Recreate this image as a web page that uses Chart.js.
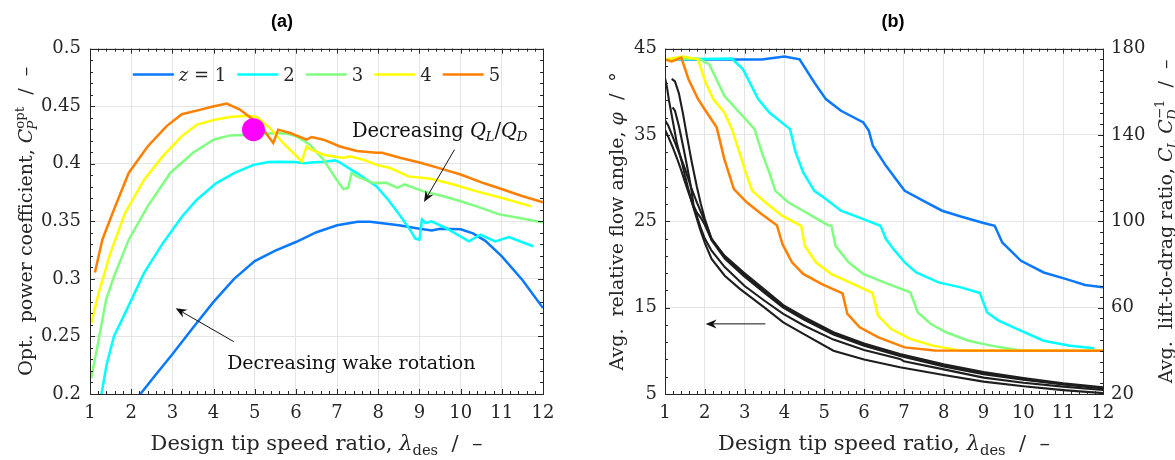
<!DOCTYPE html>
<html><head><meta charset="utf-8">
<script src="https://cdn.jsdelivr.net/npm/chart.js@4.4.0/dist/chart.umd.min.js"></script>
<style>
html,body{margin:0;padding:0;background:#fff;overflow:hidden;width:1175px;height:460px;position:relative;}
canvas{position:absolute;top:0;}
#ca{left:0;} #cb{left:590px;}
</style></head><body>
<canvas id="ca" width="564" height="460"></canvas>
<canvas id="cb" width="606" height="460"></canvas>
<script>
// ---------- (a) data ----------
const lamTicks = [1,2,3,4,5,6,7,8,9,10,11,12];
const cpTicks = [0.2,0.25,0.3,0.35,0.4,0.45,0.5];

const lamA_z1 = [2.18,2.6,3.0,3.5,4.0,4.5,5.0,5.5,6.0,6.5,7.0,7.5,7.8,8.0,8.5,9.0,9.3,9.5,10.0,10.3,10.6,11.0,11.5,12.0];
const cpA_z1  = [0.198,0.217,0.2345,0.2575,0.280,0.300,0.3155,0.3245,0.332,0.3405,0.3465,0.3497,0.3497,0.3487,0.3465,0.3435,0.342,0.3435,0.343,0.3395,0.333,0.3195,0.299,0.2746];

const lamA_z2 = [1.27,1.4,1.58,1.85,2.31,2.77,3.23,3.6,4.06,4.51,4.97,5.34,5.6,5.98,6.2,6.44,6.7,6.95,7.05,7.15,7.48,7.96,8.24,8.55,8.8,8.9,9.0,9.06,9.15,9.29,9.65,10.2,10.48,10.84,11.17,11.76];
const cpA_z2  = [0.198,0.225,0.250,0.270,0.305,0.331,0.354,0.369,0.383,0.392,0.399,0.4015,0.4018,0.4014,0.4005,0.4012,0.4018,0.4029,0.4015,0.3991,0.3919,0.3803,0.3687,0.354,0.341,0.335,0.334,0.3515,0.3485,0.350,0.344,0.3326,0.3384,0.3326,0.3364,0.3283];

const lamA_z3 = [1.03,1.21,1.39,1.58,1.94,2.40,2.95,3.5,4.0,4.4,4.89,5.3,5.53,5.8,6.02,6.34,6.67,6.99,7.15,7.27,7.35,7.48,7.88,8.2,8.46,8.64,9.1,9.56,10.0,10.39,10.94,11.4,12.0];
const cpA_z3  = [0.2137,0.247,0.2818,0.302,0.334,0.363,0.392,0.4095,0.4209,0.4246,0.4252,0.426,0.4267,0.426,0.4237,0.4165,0.4035,0.3861,0.378,0.3789,0.3919,0.389,0.3832,0.3834,0.379,0.382,0.376,0.372,0.3674,0.363,0.356,0.353,0.349];

const lamA_z4 = [1.03,1.21,1.49,1.85,2.31,2.77,3.23,3.6,4.06,4.4,4.8,5.05,5.37,5.69,6.14,6.26,6.38,6.67,7.15,7.31,7.64,7.96,8.29,8.73,9.28,9.83,10.39,11.03,11.72];
const cpA_z4  = [0.2615,0.2876,0.322,0.357,0.386,0.4066,0.424,0.434,0.4385,0.4406,0.4417,0.4406,0.431,0.418,0.402,0.415,0.4122,0.4078,0.405,0.4064,0.4035,0.399,0.3963,0.389,0.387,0.382,0.376,0.370,0.363];

const lamA_z5 = [1.12,1.3,1.58,1.94,2.40,2.86,3.23,3.69,3.96,4.32,4.64,4.97,5.21,5.45,5.57,5.86,6.26,6.38,6.67,7.07,7.48,7.96,8.09,8.55,9.0,9.46,10.0,10.57,11.03,11.49,12.0];
const cpA_z5  = [0.3056,0.334,0.360,0.392,0.415,0.4327,0.443,0.447,0.4495,0.4522,0.447,0.438,0.4296,0.418,0.4296,0.4267,0.4209,0.4232,0.4209,0.415,0.411,0.4095,0.4095,0.405,0.401,0.3964,0.3906,0.383,0.3776,0.372,0.3665];

const optLam = [4.97];
const optCp  = [0.4296];

// ---------- (b) data ----------
const phiTicks = [5,15,25,35,45];
const ldTicks  = [20,60,100,140,180];

const lamB_z1 = [1,3.43,4.0,4.38,4.75,5.04,5.42,5.98,6.12,6.22,6.55,6.83,7.02,7.49,7.96,8.43,9.0,9.28,9.47,9.94,10.51,11.08,11.55,12];
const ldB_z1  = [175,175,176.3,175,164.3,156.6,151.2,145.8,141.9,135,125.7,118.8,114.1,109.5,104.9,102.2,99.2,97.9,90.2,81.7,76.3,73.2,70.5,69.4];

const lamB_z2 = [1,2.68,2.96,3.34,3.62,4.14,4.28,4.47,4.75,5.04,5.42,5.98,6.41,6.55,6.74,7.02,7.31,7.87,8.43,8.91,9.09,9.38,9.85,10.51,11.17,11.78];
const ldB_z2  = [175,175.4,170.4,156.6,150.4,142.7,131.9,122.6,114.1,110.3,104.9,101,97.9,91.8,87.1,81,76.3,71.7,69.4,66.8,57.8,54,50.1,44.7,42.4,41.2];

const lamB_z3 = [1,1.83,2.11,2.49,2.87,3.25,3.43,3.62,3.77,4.1,4.47,5.09,5.18,5.28,5.61,5.98,6.55,7.16,7.35,7.68,8.06,8.62,9.19,9.85,10.04,12];
const ldB_z3  = [175,175.4,172.8,158.1,150.4,142.7,131.9,122.6,114.1,108.7,104.9,98.2,97.9,88.7,81,75.6,71.4,67.1,57.8,52.4,48.6,44.7,42.4,40.4,40,40];

const lamB_z4 = [1,1.45,1.83,2.02,2.21,2.49,2.68,2.87,3.0,3.19,3.57,3.94,4.42,4.51,4.79,5.17,5.64,6.21,6.35,6.68,7.16,7.72,8.43,12];
const ldB_z4  = [175,176.3,175,164.3,156.6,150.4,142.7,131.9,124.2,114.1,108,102.6,97.9,88.7,81,75.6,71.7,66.8,56.3,50.1,45.5,42.4,40.1,40];

const lamB_z5 = [1,1.17,1.41,1.59,1.83,2.02,2.3,2.49,2.73,3.06,3.43,3.81,3.95,4.19,4.47,4.94,5.46,5.58,5.89,6.36,7.02,7.77,12];
const ldB_z5  = [175,174.1,175.8,165.8,156.6,151.2,143.4,128.8,114.9,108.7,103.3,98.2,89.4,81,75.6,70.9,66.6,57.1,50.9,46.2,41.6,40.1,40];

const lamK1 = [1.0,1.05,1.1,1.2,1.3,1.42,1.5,1.6,1.7,1.8,1.88,2.0,2.17,2.5,2.88,3.5,3.97,4.5,5.23,6.0,6.9,8.0,9.0,10.0,11.0,12.0];
const phiK1 = [41.6,40.5,39.0,36.5,34.0,31.9,30.3,28.5,26.8,25.3,24.1,22.5,20.65,18.7,17.17,15.0,13.3,11.9,10.02,9.0,8.1,7.2,6.43,5.9,5.45,5.1];

const lamK2 = [1.17,1.25,1.35,1.45,1.55,1.67,1.8,1.9,2.0,2.1,2.17,2.5,2.97,3.5,3.97,4.5,5.23,6.0,6.9,8.0,9.0,10.0,11.0,12.0];
const phiK2 = [41.5,41.2,39.8,37.5,34.9,31.9,29.0,27.0,25.3,23.9,22.9,21.0,19.1,17.1,15.3,13.9,12.15,10.85,9.64,8.45,7.55,6.85,6.25,5.78];

const lamK3 = [1.0,1.08,1.21,1.38,1.5,1.65,1.8,2.0,2.17,2.5,2.97,3.5,3.97,4.5,5.23,6.0,6.9,8.0,9.0,10.0,11.0,12.0];
const phiK3 = [36.7,36.1,34.6,32.6,31.1,29.0,27.2,25.0,23.0,20.9,18.9,16.9,15.1,13.7,12.0,10.7,9.5,8.3,7.4,6.7,6.15,5.7];

const lamK4 = [1.19,1.25,1.35,1.45,1.55,1.65,1.72,1.8,1.9,2.0,2.17,2.5,2.97,3.5,3.97,4.5,5.23,6.0,6.9,8.0,9.0,10.0,11.0,12.0];
const phiK4 = [38.2,37.8,36.0,33.8,31.5,29.0,26.8,26.0,25.4,24.6,22.8,20.7,18.7,16.7,15.0,13.6,11.9,10.6,9.4,8.2,7.3,6.65,6.1,5.65];

const lamK5 = [1.0,1.1,1.2,1.3,1.4,1.5,1.6,1.7,1.8,1.9,2.0,2.17,2.5,3.0,3.5,3.97,4.5,5.23,6.0,6.9,7.0,8.0,9.0,10.0,11.0,12.0];
const phiK5 = [35.6,34.6,33.5,32.3,31.0,29.6,28.2,26.9,25.6,24.2,23.0,21.6,19.7,17.5,15.8,14.27,12.9,11.3,10.1,9.06,8.8,7.85,6.9,6.3,5.85,5.46];

// ---------- styling ----------
const zColors = ['#0a78ff','#00ffff','#80ff80','#ffff00','#ff8000'];
const zLabels = ['z = 1','2','3','4','5'];
const blackColor = '#1e1e1e';
const FAM = '"DejaVu Serif","Liberation Serif",serif';
const TXT = '#262626';
const GRID = '#e4e4e4';

const pts = (xs, ys) => xs.map((x, i) => ({x: x, y: ys[i]}));

// ---------- rich text helpers ----------
function fontStr(size, it){ return (it ? 'italic ' : '') + size + 'px ' + FAM; }
function segWidth(ctx, s, size){
  ctx.font = fontStr(size, s.it);
  const w = ctx.measureText(s.t).width;
  let e = 0;
  for (const k of ['sub','sup']) if (s[k]) {
    ctx.font = fontStr(size*0.7, s[k].it);
    e = Math.max(e, ctx.measureText(s[k].t).width + (s[k].dx || 0));
  }
  return w + e;
}
function richWidth(ctx, segs, size){ return segs.reduce((a, s) => a + segWidth(ctx, s, size), 0); }
function drawRichAt(ctx, segs, x, y, size){
  ctx.textAlign = 'left'; ctx.textBaseline = 'alphabetic';
  for (const s of segs){
    ctx.font = fontStr(size, s.it); ctx.fillText(s.t, x, y);
    const w = ctx.measureText(s.t).width;
    let e = 0;
    if (s.sub){ ctx.font = fontStr(size*0.7, s.sub.it); ctx.fillText(s.sub.t, x + w + (s.sub.dx||0), y + size*0.24); e = Math.max(e, ctx.measureText(s.sub.t).width + (s.sub.dx||0)); }
    if (s.sup){ ctx.font = fontStr(size*0.7, s.sup.it); ctx.fillText(s.sup.t, x + w + (s.sup.dx||0), y - size*0.42); e = Math.max(e, ctx.measureText(s.sup.t).width + (s.sup.dx||0)); }
    x += w + e;
  }
}

// ---------- plugins ----------
const framePlugin = {
  id: 'frameTicks',
  afterDatasetsDraw(chart, args, o){
    const ctx = chart.ctx, a = chart.chartArea;
    ctx.save();
    ctx.strokeStyle = TXT; ctx.lineWidth = 1;
    const line = (x1,y1,x2,y2) => { ctx.beginPath(); ctx.moveTo(x1,y1); ctx.lineTo(x2,y2); ctx.stroke(); };
    const sx = chart.scales.x;
    const n = Math.round((sx.max - sx.min)/o.xMinor);
    for (let i = 0; i <= n; i++){
      const v = sx.min + i*o.xMinor;
      const maj = Math.abs((v - sx.min)/o.xMajor - Math.round((v - sx.min)/o.xMajor)) < 1e-6;
      const L = maj ? 5 : 3;
      const p = Math.round(sx.getPixelForValue(v)) + 0.5;
      line(p, a.bottom, p, a.bottom - L); line(p, a.top, p, a.top + L);
    }
    const side = (sid, minor, major, isLeft) => {
      const s = chart.scales[sid];
      const m = Math.round((s.max - s.min)/minor);
      for (let i = 0; i <= m; i++){
        const v = s.min + i*minor;
        const maj = Math.abs((v - s.min)/major - Math.round((v - s.min)/major)) < 1e-6;
        const L = maj ? 5 : 3;
        const p = Math.round(s.getPixelForValue(v)) + 0.5;
        if (isLeft) line(a.left, p, a.left + L, p); else line(a.right, p, a.right - L, p);
      }
    };
    side(o.left, o.leftMinor, o.leftMajor, true);
    side(o.right, o.rightMinor, o.rightMajor, false);
    ctx.strokeRect(Math.round(a.left)+0.5, Math.round(a.top)+0.5, Math.round(a.right - a.left), Math.round(a.bottom - a.top));
    ctx.restore();
  }
};

function drawArrow(ctx, x1, y1, x2, y2){
  const dx = x2 - x1, dy = y2 - y1, len = Math.hypot(dx, dy);
  const ux = dx/len, uy = dy/len, px = -uy, py = ux;
  const L = 11, W = 4.5, N = 7.5;
  ctx.beginPath(); ctx.moveTo(x1, y1); ctx.lineTo(x2 - ux*N, y2 - uy*N); ctx.stroke();
  ctx.beginPath();
  ctx.moveTo(x2, y2);
  ctx.lineTo(x2 - ux*L + px*W, y2 - uy*L + py*W);
  ctx.lineTo(x2 - ux*N, y2 - uy*N);
  ctx.lineTo(x2 - ux*L - px*W, y2 - uy*L - py*W);
  ctx.closePath(); ctx.fill();
}

const notesPlugin = {
  id: 'notes',
  afterDatasetsDraw(chart, args, o){
    if (!o.items) return;
    const ctx = chart.ctx, sx = chart.scales.x;
    ctx.save();
    ctx.strokeStyle = '#111'; ctx.fillStyle = '#111'; ctx.lineWidth = 1;
    for (const it of o.items){
      const sy = chart.scales[it.yAxis];
      if (it.type === 'arrow'){
        drawArrow(ctx, sx.getPixelForValue(it.from[0]), sy.getPixelForValue(it.from[1]),
                       sx.getPixelForValue(it.to[0]), sy.getPixelForValue(it.to[1]));
      } else {
        ctx.fillStyle = '#111';
        drawRichAt(ctx, it.segs, sx.getPixelForValue(it.at[0]), sy.getPixelForValue(it.at[1]) + it.size*0.36, it.size);
      }
    }
    ctx.restore();
  }
};

const legendPlugin = {
  id: 'zLegend',
  afterDatasetsDraw(chart, args, o){
    if (!o.display) return;
    const ctx = chart.ctx, a = chart.chartArea;
    const items = chart.data.datasets.filter(d => d.legendItem);
    const segsOf = l => l.startsWith('z') ? [{t:'z', it:true}, {t:l.slice(1)}] : [{t:l}];
    const widths = items.map(d => richWidth(ctx, segsOf(d.label), o.size));
    const total = widths.reduce((s, w) => s + o.lineLen + o.gapLT + w, 0) + o.gapItem*(items.length - 1);
    let x = (a.left + a.right)/2 - total/2;
    const y = a.top + o.offsetY;
    ctx.save();
    items.forEach((d, i) => {
      ctx.strokeStyle = d.borderColor; ctx.lineWidth = d.borderWidth;
      ctx.beginPath(); ctx.moveTo(x, y); ctx.lineTo(x + o.lineLen, y); ctx.stroke();
      x += o.lineLen + o.gapLT;
      ctx.fillStyle = TXT;
      drawRichAt(ctx, segsOf(d.label), x, y + o.size*0.36, o.size);
      x += widths[i] + o.gapItem;
    });
    ctx.restore();
  }
};

const titlesPlugin = {
  id: 'richTitles',
  afterDraw(chart, args, o){
    const ctx = chart.ctx, a = chart.chartArea;
    ctx.save(); ctx.fillStyle = TXT;
    for (const t of o.items){
      const w = richWidth(ctx, t.segs, t.size);
      ctx.save();
      if (t.side === 'bottom'){ ctx.translate((a.left + a.right)/2, t.pos); }
      else { ctx.translate(t.pos, (a.top + a.bottom)/2); ctx.rotate(-Math.PI/2); }
      drawRichAt(ctx, t.segs, -w/2, 0, t.size);
      ctx.restore();
    }
    ctx.restore();
  }
};

// ---------- common option builders ----------
const tickFont = {family: FAM, size: 18};
const titleFont = {family: '"Liberation Sans",Arial,sans-serif', size: 18, weight: 'bold'};
function xScale(){
  return {
    type: 'linear', min: 1, max: 12,
    afterBuildTicks: s => { s.ticks = lamTicks.map(v => ({value: v})); },
    afterFit: s => { s.height = 66; },
    grid: {color: GRID, lineWidth: 1, drawTicks: false},
    border: {display: false},
    ticks: {font: tickFont, color: TXT, padding: 9, maxRotation: 0, autoSkip: false}
  };
}
function yScale(min, max, ticks, width, pos, pad, showGrid){
  return {
    type: 'linear', min: min, max: max, position: pos,
    afterBuildTicks: s => { s.ticks = ticks.map(v => ({value: v})); },
    afterFit: s => { s.width = width; },
    grid: {display: showGrid, color: GRID, lineWidth: 1, drawTicks: false},
    border: {display: false},
    ticks: {font: tickFont, color: TXT, padding: pad, autoSkip: false, callback: v => String(v)}
  };
}

// ---------- chart (a) ----------
const seriesA = [[lamA_z1, cpA_z1],[lamA_z2, cpA_z2],[lamA_z3, cpA_z3],[lamA_z4, cpA_z4],[lamA_z5, cpA_z5]];
const dsA = seriesA.map((s, i) => ({
  label: zLabels[i], legendItem: true, data: pts(s[0], s[1]),
  borderColor: zColors[i], backgroundColor: zColors[i], borderWidth: 2.5,
  showLine: true, pointRadius: 0, tension: 0, order: 5 - i, yAxisID: 'y'
}));
dsA.push({label: 'optimum', data: pts(optLam, optCp), yAxisID: 'y', showLine: false,
  pointRadius: 11.5, pointBackgroundColor: '#ff00ff', pointBorderWidth: 0, order: 0});

new Chart(document.getElementById('ca'), {
  type: 'scatter',
  data: {datasets: dsA},
  options: {
    responsive: false, animation: false, events: [],
    layout: {padding: 0},
    scales: {
      x: xScale(),
      y: yScale(0.2, 0.5, cpTicks, 90, 'left', 9, true),
      r: {type: 'linear', position: 'right', afterFit: s => { s.width = 21; },
          grid: {display: false}, ticks: {display: false}, border: {display: false}}
    },
    plugins: {
      legend: {display: false}, tooltip: {enabled: false},
      title: {display: true, text: '(a)', font: titleFont, color: '#000', padding: {top: 11, bottom: 16}},
      frameTicks: {xMinor: 0.2, xMajor: 1, left: 'y', leftMinor: 0.01, leftMajor: 0.05, right: 'y', rightMinor: 0.01, rightMajor: 0.05},
      zLegend: {display: true, size: 18, lineLen: 41, gapLT: 5, gapItem: 11, offsetY: 26},
      notes: {items: [
        {type: 'text', yAxis: 'y', at: [7.36, 0.4296], size: 19.5,
         segs: [{t: 'Decreasing '}, {t: 'Q', it: true, sub: {t: 'L', it: true, dx: -0.5}}, {t: '/'}, {t: 'Q', it: true, sub: {t: 'D', it: true, dx: -0.5}}]},
        {type: 'arrow', yAxis: 'y', from: [9.85, 0.4122], to: [9.11, 0.3667]},
        {type: 'text', yAxis: 'y', at: [4.33, 0.2278], size: 19, segs: [{t: 'Decreasing wake rotation'}]},
        {type: 'arrow', yAxis: 'y', from: [4.49, 0.2455], to: [3.08, 0.2745]}
      ]},
      richTitles: {items: [
        {side: 'bottom', pos: 450, size: 21, segs: [{t: 'Design tip speed ratio, '}, {t: 'λ', it: true, sub: {t: 'des'}}, {t: '  /  –'}]},
        {side: 'left', pos: 32, size: 19, segs: [{t: 'Opt.  power coefficient, '}, {t: 'C', it: true, sub: {t: 'P', it: true, dx: -1}, sup: {t: 'opt'}}, {t: '  /  –'}]}
      ]}
    }
  },
  plugins: [framePlugin, legendPlugin, notesPlugin, titlesPlugin]
});

// ---------- chart (b) ----------
const seriesB = [[lamB_z1, ldB_z1],[lamB_z2, ldB_z2],[lamB_z3, ldB_z3],[lamB_z4, ldB_z4],[lamB_z5, ldB_z5]];
const dsB = seriesB.map((s, i) => ({
  label: zLabels[i], data: pts(s[0], s[1]),
  borderColor: zColors[i], borderWidth: 2.5,
  showLine: true, pointRadius: 0, tension: 0, order: 6 - i, yAxisID: 'y2'
}));
const blackB = [[lamK1, phiK1],[lamK2, phiK2],[lamK3, phiK3],[lamK4, phiK4],[lamK5, phiK5]];
blackB.forEach((s, i) => dsB.push({
  label: 'phi ' + (i + 1), data: pts(s[0], s[1]),
  borderColor: blackColor, borderWidth: 2.1, showLine: true, pointRadius: 0, tension: 0, order: 0, yAxisID: 'y'
}));

new Chart(document.getElementById('cb'), {
  type: 'scatter',
  data: {datasets: dsB},
  options: {
    responsive: false, animation: false, events: [],
    layout: {padding: 0},
    scales: {
      x: xScale(),
      y: yScale(5, 45, phiTicks, 75, 'left', 8, true),
      y2: yScale(20, 180, ldTicks, 93, 'right', 8, false)
    },
    plugins: {
      legend: {display: false}, tooltip: {enabled: false},
      title: {display: true, text: '(b)', font: titleFont, color: '#000', padding: {top: 11, bottom: 16}},
      frameTicks: {xMinor: 0.2, xMajor: 1, left: 'y', leftMinor: 2, leftMajor: 10, right: 'y2', rightMinor: 5, rightMajor: 40},
      zLegend: {display: false},
      notes: {items: [
        {type: 'arrow', yAxis: 'y', from: [3.52, 13.12], to: [2.02, 13.12]}
      ]},
      richTitles: {items: [
        {side: 'bottom', pos: 450, size: 21, segs: [{t: 'Design tip speed ratio, '}, {t: 'λ', it: true, sub: {t: 'des'}}, {t: '  /  –'}]},
        {side: 'left', pos: 33, size: 19, segs: [{t: 'Avg.  relative flow angle, '}, {t: 'φ', it: true}, {t: '  /  °'}]},
        {side: 'right', pos: 582, size: 19, segs: [{t: 'Avg.  lift-to-drag ratio, '}, {t: 'C', it: true, sub: {t: 'L', it: true, dx: -1}}, {t: ' C', it: true, sub: {t: 'D', it: true, dx: -1}, sup: {t: '−1'}}, {t: '  /  –'}]}
      ]}
    }
  },
  plugins: [framePlugin, legendPlugin, notesPlugin, titlesPlugin]
});
</script>
</body></html>
